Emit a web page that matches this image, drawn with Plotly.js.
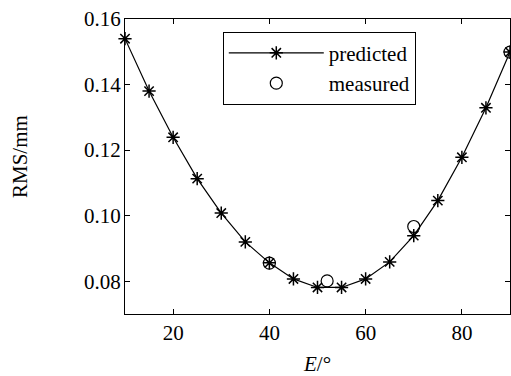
<!DOCTYPE html>
<html>
<head>
<meta charset="utf-8">
<script src="https://cdn.plot.ly/plotly-3.0.1.min.js"></script>
<style>html,body{margin:0;padding:0;background:#fff;}#chart{width:511px;height:376px;}</style>
</head>
<body>
<div id="chart"></div>
<script>
var predictedE = [10, 15, 20, 25, 30, 35, 40, 45, 50, 55, 60, 65, 70, 75, 80, 85, 90];
var predictedRMS = [0.1540, 0.1380, 0.1239, 0.1113, 0.1008, 0.0920, 0.0856, 0.0807, 0.0781, 0.0781, 0.0807, 0.0859, 0.0939, 0.1046, 0.1178, 0.1329, 0.1499];
var measuredE = [40, 52, 70, 90];
var measuredRMS = [0.0855, 0.0801, 0.0967, 0.1499];
var xTicks = [20, 40, 60, 80];
var yTicks = [0.08, 0.10, 0.12, 0.14, 0.16];
var yTickText = ['0.08', '0.10', '0.12', '0.14', '0.16'];

var font = 'Liberation Serif, Times New Roman, serif';

var traces = [
  {
    x: predictedE, y: predictedRMS, name: 'predicted', type: 'scatter', mode: 'lines+markers',
    line: {color: '#000', width: 1.2},
    marker: {symbol: 'asterisk-open', size: 11, color: '#000', line: {color: '#000', width: 1.5}},
    cliponaxis: false, legendgroup: 'a'
  },
  {
    x: measuredE, y: measuredRMS, name: 'measured', type: 'scatter', mode: 'markers',
    marker: {symbol: 'circle-open', size: 12, color: '#000', line: {color: '#000', width: 1.2}},
    cliponaxis: false, legendgroup: 'b'
  }
];

var axisCommon = {
  showline: true, linecolor: '#000', linewidth: 1, mirror: 'ticks',
  ticks: 'inside', ticklen: 5, tickcolor: '#000', tickwidth: 1,
  showgrid: false, zeroline: false,
  tickfont: {family: font, size: 21, color: '#000'}
};

var layout = {
  width: 511, height: 376,
  margin: {l: 125, r: 1, t: 19, b: 62},
  paper_bgcolor: '#fff', plot_bgcolor: '#fff',
  font: {family: font, color: '#000'},
  showlegend: true,
  xaxis: Object.assign({}, axisCommon, {
    range: [10, 90], tickvals: xTicks, ticktext: xTicks.map(String),
    title: {text: '<i>E</i>/°\u2009', font: {family: font, size: 21, color: '#000'}, standoff: 17}
  }),
  yaxis: Object.assign({}, axisCommon, {range: [0.07, 0.16], tickvals: yTicks, ticktext: yTickText, ticklabelstandoff: -1}),
  legend: {
    x: 0.254, y: 0.957, xanchor: 'left', yanchor: 'top',
    bordercolor: '#000', borderwidth: 1, bgcolor: '#fff',
    font: {family: font, size: 21, color: '#000'},
    itemwidth: 95, tracegroupgap: 0, traceorder: 'grouped'
  },
  annotations: [
    {text: 'RMS/mm', xref: 'paper', yref: 'paper', x: (20 - 125) / 385, y: (314 - 157) / 295,
     xanchor: 'center', yanchor: 'middle', textangle: -90, showarrow: false,
     font: {family: font, size: 21, color: '#000'}}
  ]
};

Plotly.newPlot('chart', traces, layout, {displayModeBar: false, staticPlot: true});
</script>
</body>
</html>
